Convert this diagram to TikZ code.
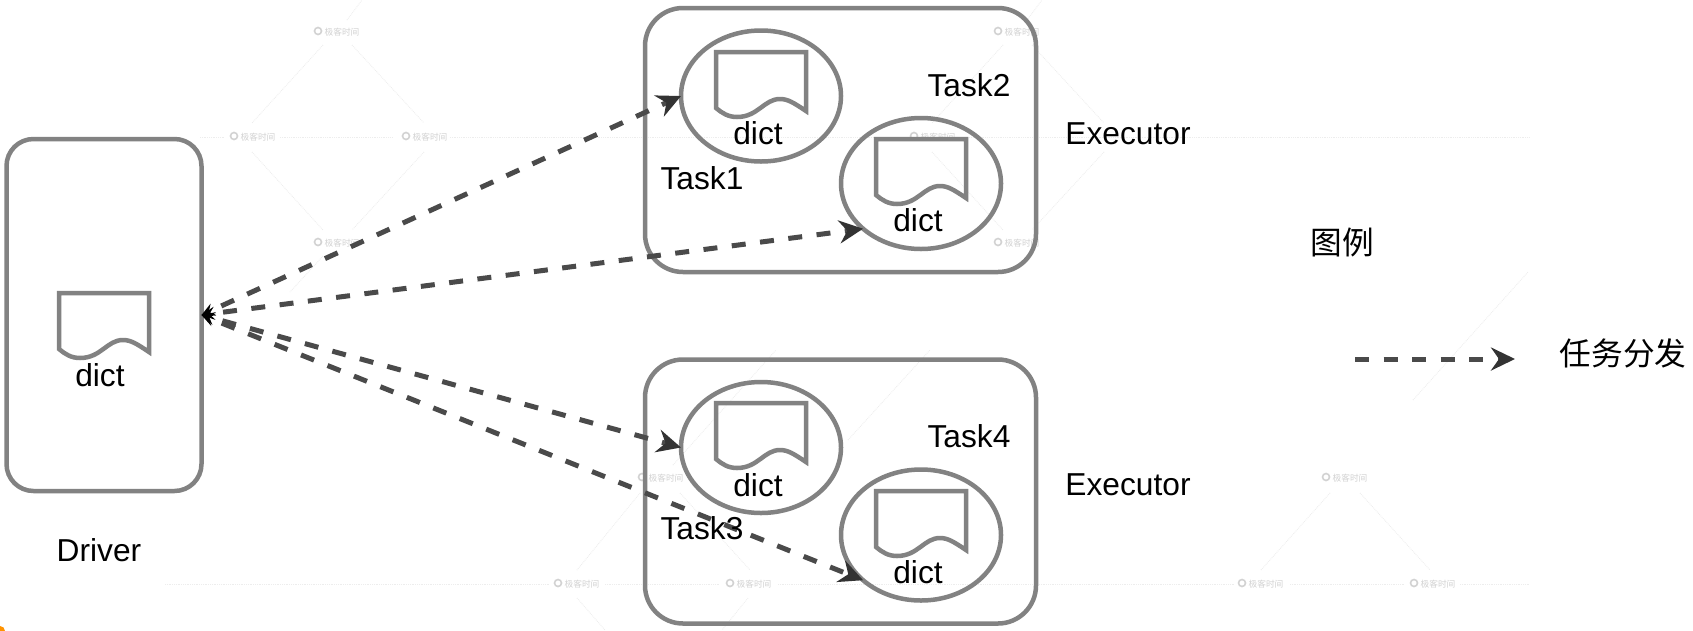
\documentclass[tikz,border=0pt]{standalone}
\usepackage{fontspec}
\setmainfont{Liberation Sans}
\newfontfamily\cjk{Noto Sans CJK SC}
\usetikzlibrary{arrows.meta,shapes.geometric}
\definecolor{boxgray}{HTML}{828282}
\definecolor{dashgray}{HTML}{4A4A4A}
\definecolor{wmgray}{HTML}{D2D2D2}
\definecolor{wmline}{HTML}{EDEDED}
\tikzset{
  x=1pt,y=-1pt,
  container/.style={draw=boxgray,line width=4.5pt,rectangle,rounded corners=38pt,inner sep=0pt,outer sep=0pt},
  taskcircle/.style={draw=boxgray,line width=4.5pt,ellipse,inner sep=0pt,outer sep=0pt,minimum width=160pt,minimum height=131pt},
  label/.style={font=\fontsize{31.7}{36}\selectfont,inner sep=0pt,text=black},
  cjklabel/.style={font=\fontsize{31.7}{36}\selectfont\cjk,inner sep=0pt,text=black},
  watermark/.style={font=\fontsize{8.7}{10}\selectfont\cjk,text=wmgray,inner sep=0pt},
  wmicon/.style={draw=wmgray,line width=1.6pt,circle,inner sep=0pt,minimum size=7pt},
  wmrule/.style={draw=wmline,line width=.8pt,densely dotted},
  flow/.style={draw=dashgray,line width=5pt,dash pattern=on 14pt off 14.5pt,
    -{Stealth[length=24pt,width=23pt,inset=8pt,color=black!80]}},
  flowboth/.style={flow,dash phase=14pt,{Stealth[length=13pt,width=13pt,inset=5pt,color=black]}-{Stealth[length=24pt,width=23pt,inset=8pt,color=black!80]}},
  docshape/.pic={
    \draw[draw=boxgray,line width=4.5pt,miter limit=4]
      (0,0) -- (90,0) -- (90,59)
      .. controls (78,51) and (72,47) .. (64,47)
      .. controls (48,47) and (42,65) .. (21,65)
      .. controls (12,65) and (6,61) .. (0,56) -- cycle;
  }
}
\begin{document}
\begin{tikzpicture}
\useasboundingbox[fill=white] (0,0) rectangle (1693,630);
% watermark rules
\draw[wmrule] (200,137) -- (225,137) (280,137) -- (392,137) (450,137) -- (905,137) (960,137) -- (1530,137);
\draw[wmrule] (165,584) -- (550,584) (605,584) -- (720,584) (778,584) -- (1235,584) (1290,584) -- (1405,584) (1460,584) -- (1530,584);
\draw[wmrule] (323,45) -- (252,123) (352,45) -- (424,123) (252,152) -- (323,230) (424,152) -- (352,230)
  (347,20) -- (362,0) (323,256) -- (290,292);
\draw[wmrule] (1003,45) -- (932,123) (1032,45) -- (1104,123) (932,152) -- (1003,230) (1104,152) -- (1032,230)
  (1027,20) -- (1042,0);
\draw[wmrule] (680,493) -- (750,570) (640,493) -- (577,570) (577,598) -- (605,630) (748,598) -- (722,630);
\draw[wmrule] (673,465) -- (776,350) (848,440) -- (930,350);
\draw[wmrule] (1413,400) -- (1528,272) (1360,493) -- (1430,570) (1330,493) -- (1261,570);
% watermark marks
\foreach \cx/\cy in {342/32,258/137,430/137,342/243,1022/32,938/137,1022/243,666/478,582/584,754/584,1350/478,1266/584,1438/584}{
  \node[watermark] at (\cx,\cy) {极客时间};
  \node[wmicon] at (\cx-24,\cy-1) {};
}
% containers
\node[container,minimum width=195pt,minimum height=352pt,rounded corners=27pt] (drv) at (104,315) {};
\node[container,minimum width=391pt,minimum height=264pt] (ex1) at (840.5,140) {};
\node[container,minimum width=391pt,minimum height=264pt] (ex2) at (840.5,491.5) {};
% tasks
\node[taskcircle] (e1) at (761,96) {};
\node[taskcircle] (e2) at (921,183.5) {};
\node[taskcircle] (e3) at (761,447.5) {};
\node[taskcircle] (e4) at (921,535) {};
% documents
\pic at (59,293) {docshape};
\pic at (716,52) {docshape};
\pic at (876,139) {docshape};
\pic at (716,403) {docshape};
\pic at (876,491) {docshape};
% arrows
\draw[flowboth] (drv.east) -- (e1.180);
\draw[flowboth] (drv.east) -- (e2.218);
\draw[flowboth] (drv.east) -- (e3.180);
\draw[flowboth] (drv.east) -- (e4.218);
% text
\node[label] (dd) at (100,375) {dict};
\node[label] (d1) at (758,133) {dict};
\node[label] (d2) at (918,220) {dict};
\node[label] (d3) at (758,485) {dict};
\node[label] (d4) at (918,572) {dict};
\node[label] (t1) at (702,178) {Task1};
\node[label] (t2) at (969,85) {Task2};
\node[label] (t3) at (702,528) {Task3};
\node[label] (t4) at (969,436) {Task4};
\node[label] (x1) at (1128,134) {Executor};
\node[label] (x2) at (1128,485) {Executor};
\node[label] (dl) at (99,550) {Driver};
\node[cjklabel] (lg) at (1342,242) {图例};
\node[cjklabel] (lt) at (1623,353) {任务分发};
% legend arrow
\coordinate (la) at (1355,359);
\coordinate (lb) at (1515,359);
\draw[flow] (la) -- (lb);
% corner mark
\fill[orange!85!yellow] (0,631) circle (5pt);
\end{tikzpicture}
\end{document}
